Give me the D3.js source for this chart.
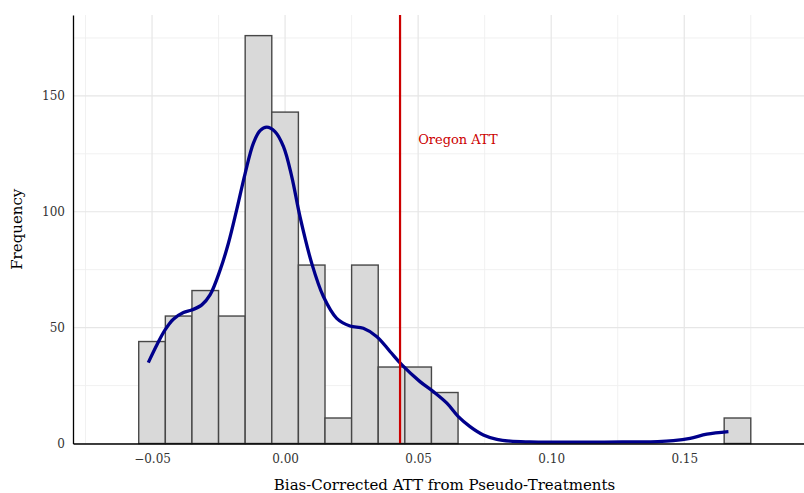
<!DOCTYPE html>
<html>
<head>
<meta charset="utf-8">
<script src="https://cdn.jsdelivr.net/npm/d3@7"></script>
<style>
  body { margin: 0; background: #fff; }
  text { font-family: "DejaVu Serif", serif; }
</style>
</head>
<body>
<div id="chart"></div>
<script>
// histogram bins (centre of each 0.01-wide bin) and counts
const binCenters = [-0.05, -0.04, -0.03, -0.02, -0.01, 0.0, 0.01, 0.02, 0.03, 0.04, 0.05, 0.06, 0.17];
const binCounts = [44, 55, 66, 55, 176, 143, 77, 11, 77, 33, 33, 22, 11];
const binWidth = 0.01;

// density curve, scaled to counts
const densityX = [-0.0514, -0.0482, -0.0451, -0.042, -0.0382, -0.0351, -0.0313, -0.0282, -0.0244, -0.0213,
  -0.0182, -0.015, -0.0119, -0.0094, -0.0069, -0.0038, -0.0006, 0.0025, 0.0056, 0.01, 0.0144, 0.0194,
  0.0244, 0.0294, 0.0345, 0.0395, 0.0439, 0.0507, 0.0557, 0.0608, 0.0651, 0.0695, 0.0745, 0.0796, 0.0846, 0.092,
  0.10, 0.11, 0.12, 0.13, 0.14, 0.1459, 0.1522, 0.1585, 0.1666];
const densityY = [34.9, 42.5, 49.0, 53.6, 56.5, 57.6, 59.8, 64.1, 74.9, 86.4,
  100.8, 116.6, 129.6, 135.0, 136.5, 134.6, 128.1, 115.2, 97.9, 77.8, 63.4, 54.0,
  50.7, 49.7, 46.1, 39.6, 33.9, 26.7, 22.4, 17.4, 11.6, 7.3, 3.7, 1.8, 1.0, 0.7,
  0.6, 0.6, 0.6, 0.7, 0.8, 1.2, 2.2, 4.0, 5.1];

const oregonATT = 0.0432;
const oregonLabel = "Oregon ATT";
const oregonLabelX = 0.05;
const oregonLabelY = 131;

const xTicks = [-0.05, 0.0, 0.05, 0.10, 0.15];
const xMinor = [-0.075, -0.025, 0.025, 0.075, 0.125, 0.175];
const yTicks = [0, 50, 100, 150];
const yMinor = [25, 75, 125, 175];

const W = 804, H = 493;
const margin = { top: 15, right: 0, bottom: 49.5, left: 73 };
const width = W - margin.left - margin.right;
const height = H - margin.top - margin.bottom;

const svg = d3.select("#chart").append("svg")
  .attr("width", W).attr("height", H);
const g = svg.append("g")
  .attr("transform", `translate(${margin.left},${margin.top})`);

const x = d3.scaleLinear().domain([-0.0797, 0.1950]).range([0, width]);
const y = d3.scaleLinear().domain([0, 184.9]).range([height, 0]);

// grid
g.selectAll(".gx-minor").data(xMinor).enter().append("line")
  .attr("x1", d => x(d)).attr("x2", d => x(d)).attr("y1", 0).attr("y2", height)
  .attr("stroke", "#efefef").attr("stroke-width", 0.9);
g.selectAll(".gy-minor").data(yMinor).enter().append("line")
  .attr("y1", d => y(d)).attr("y2", d => y(d)).attr("x1", 0).attr("x2", width)
  .attr("stroke", "#efefef").attr("stroke-width", 0.9);
g.selectAll(".gx").data(xTicks).enter().append("line")
  .attr("x1", d => x(d)).attr("x2", d => x(d)).attr("y1", 0).attr("y2", height)
  .attr("stroke", "#e6e6e6").attr("stroke-width", 1.2);
g.selectAll(".gy").data(yTicks).enter().append("line")
  .attr("y1", d => y(d)).attr("y2", d => y(d)).attr("x1", 0).attr("x2", width)
  .attr("stroke", "#e6e6e6").attr("stroke-width", 1.2);

// bars
g.selectAll(".bar").data(binCenters).enter().append("rect")
  .attr("x", d => x(d - binWidth / 2))
  .attr("width", x(binWidth) - x(0))
  .attr("y", (d, i) => y(binCounts[i]))
  .attr("height", (d, i) => height - y(binCounts[i]))
  .attr("fill", "#d9d9d9")
  .attr("stroke", "#474747")
  .attr("stroke-width", 1.4);

// density
const line = d3.line()
  .x(d => x(d[0])).y(d => y(d[1]))
  .curve(d3.curveCatmullRom);
g.append("path")
  .datum(densityX.map((v, i) => [v, densityY[i]]))
  .attr("d", line)
  .attr("fill", "none")
  .attr("stroke", "#00008b")
  .attr("stroke-width", 3.3)
  .attr("stroke-linecap", "butt");

// oregon line
g.append("line")
  .attr("x1", x(oregonATT)).attr("x2", x(oregonATT))
  .attr("y1", 0).attr("y2", height)
  .attr("stroke", "#cc0000").attr("stroke-width", 2.2);
g.append("text")
  .attr("x", x(oregonLabelX)).attr("y", y(oregonLabelY))
  .attr("dy", "0.35em")
  .attr("fill", "#cc0000")
  .attr("font-size", 13)
  .text(oregonLabel);

// axes
const xAxis = g.append("g").attr("transform", `translate(0,${height})`)
  .call(d3.axisBottom(x).tickValues(xTicks).tickSize(0).tickPadding(11)
    .tickFormat(d => d3.format(".2f")(d).replace("-", "\u2212")));
const yAxis = g.append("g")
  .call(d3.axisLeft(y).tickValues(yTicks).tickSize(0).tickPadding(8));
[xAxis, yAxis].forEach(a => {
  a.select(".domain").attr("stroke", "#000").attr("stroke-width", 1.3);
  a.selectAll("text").attr("font-family", "DejaVu Serif").attr("font-size", 12).attr("fill", "#333");
});

svg.append("text")
  .attr("x", margin.left + width / 2 + 6).attr("y", 490)
  .attr("text-anchor", "middle").attr("font-size", 15).attr("fill", "#000")
  .text("Bias-Corrected ATT from Pseudo-Treatments");
svg.append("text")
  .attr("transform", `translate(22,${margin.top + height / 2}) rotate(-90)`)
  .attr("text-anchor", "middle").attr("font-size", 15).attr("fill", "#000")
  .text("Frequency");
</script>
</body>
</html>
